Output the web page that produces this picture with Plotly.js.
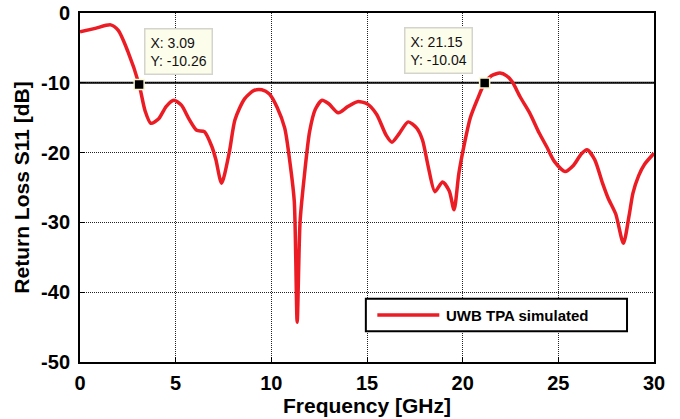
<!DOCTYPE html>
<html>
<head>
<meta charset="utf-8">
<script src="https://cdn.plot.ly/plotly-3.0.1.min.js"></script>
<style>html,body{margin:0;padding:0;background:#fff;}#chart{width:680px;height:419px;}</style>
</head>
<body>
<div id="chart"></div>
<script>
// Frequency [GHz]
const freq = [0, 0.8, 1.6, 2.0, 2.5, 3.09, 3.4, 3.7, 4.1, 4.5, 4.9, 5.3, 5.7, 6.1, 6.5, 6.9, 7.1, 7.4, 7.8, 8.1, 8.6, 9.1, 9.5, 9.9, 10.3, 10.7, 11.0, 11.2, 11.35, 11.5, 11.7, 12.0, 12.3, 12.65, 13.0, 13.5, 14.0, 14.5, 15.0, 15.5, 16.0, 16.3, 16.7, 17.15, 17.6, 17.9, 18.2, 18.55, 18.95, 19.3, 19.55, 19.8, 20.1, 20.4, 20.75, 21.15, 21.5, 21.95, 22.3, 22.6, 23.0, 23.5, 24.0, 24.4, 24.8, 25.35, 25.8, 26.2, 26.5, 26.9, 27.3, 27.6, 28.0, 28.4, 28.7, 28.9, 29.2, 29.5, 30.0];
// Return loss S11 [dB]
const s11 = [-2.7, -2.2, -1.7, -2.5, -5.5, -10.26, -14, -15.8, -15.2, -13.4, -12.5, -13.2, -15.2, -16.8, -17.0, -19.2, -21, -24.4, -20, -15.3, -12.3, -11.1, -11.0, -11.6, -13.5, -16.5, -22, -27, -44.3, -30, -24, -17, -13.8, -12.5, -13.0, -14.3, -13.4, -12.7, -13.0, -14.5, -17.5, -18.5, -17.2, -15.6, -16.5, -18.2, -22, -25.6, -24.2, -25.5, -28.2, -23, -18.6, -15, -12.5, -10.04, -9.0, -8.6, -9.0, -9.9, -12, -14.3, -17.2, -19.2, -21.3, -22.7, -21.8, -20.2, -19.6, -21.0, -24.3, -26.5, -28.8, -33, -29, -25.8, -23.3, -21.7, -20.1];
// Data tips
const tipX = [3.09, 21.15];
const tipY = [-10.26, -10.04];
const seriesName = "UWB TPA simulated";
const threshold = -10;
const xTicks = [0, 5, 10, 15, 20, 25, 30];
const yTicks = [-50, -40, -30, -20, -10, 0];

const red = '#ec1c24';
const traces = [
  {x: freq, y: s11, type: 'scatter', mode: 'lines', name: seriesName, showlegend: false,
   line: {color: red, width: 3.5, shape: 'spline', smoothing: 0.7}},
  {x: tipX, y: tipY, type: 'scatter', mode: 'markers', showlegend: false,
   marker: {symbol: 'square', size: 10, color: '#000', line: {color: '#fbf7d0', width: 1.5}}}
];

const tickFont = {family: 'Liberation Sans, Arial, sans-serif', size: 20, color: '#000', weight: 'bold'};
const tipAnn = tipX.map((x, i) => ({
  x: i === 0 ? 3.35 : 16.94, y: i === 0 ? -2.15 : -2.0, xref: 'x', yref: 'y',
  xanchor: 'left', yanchor: 'top', showarrow: false, align: 'left',
  text: 'X: ' + x.toFixed(2) + '<br>Y: ' + tipY[i].toFixed(2),
  font: {family: 'Liberation Sans, Arial, sans-serif', size: 14, color: '#111'},
  bgcolor: '#fdfdec', bordercolor: '#d4d4cc', borderwidth: 1.5, borderpad: 5
}));

const layout = {
  width: 680, height: 419,
  margin: {l: 80, r: 26, t: 13, b: 57},
  paper_bgcolor: '#fff', plot_bgcolor: '#fff',
  font: {family: 'Liberation Sans, Arial, sans-serif', color: '#000'},
  xaxis: {
    range: [0, 30], tickvals: xTicks, ticktext: xTicks.map(String),
    showgrid: true, gridcolor: '#222', gridwidth: 1, griddash: '1px,1px',
    ticks: 'inside', ticklen: 5, tickwidth: 1, tickcolor: '#000',
    showline: true, linecolor: '#000', linewidth: 2, mirror: true,
    zeroline: false, tickfont: tickFont, ticklabelstandoff: 2,
    title: {text: 'Frequency [GHz]', font: {family: 'Liberation Sans, Arial, sans-serif', size: 21, weight: 'bold', color: '#000'}, standoff: 4}
  },
  yaxis: {
    range: [-50, 0], tickvals: yTicks, ticktext: yTicks.map(String),
    showgrid: true, gridcolor: '#222', gridwidth: 1, griddash: '1px,1px',
    ticks: 'inside', ticklen: 5, tickwidth: 1, tickcolor: '#000',
    showline: true, linecolor: '#000', linewidth: 2, mirror: true,
    zeroline: false, tickfont: tickFont, ticklabelstandoff: 4,
    title: {text: 'Return Loss S11 [dB]', font: {family: 'Liberation Sans, Arial, sans-serif', size: 21, weight: 'bold', color: '#000'}, standoff: 6}
  },
  shapes: [
    {type: 'line', xref: 'x', yref: 'y', x0: 0, x1: 30, y0: threshold, y1: threshold, line: {color: '#000', width: 2}, layer: 'below'},
    // legend box
    {type: 'rect', xref: 'paper', yref: 'paper', x0: 0.498, x1: 0.953, y0: 0.088, y1: 0.181, fillcolor: '#fff', line: {color: '#000', width: 2}},
    {type: 'line', xref: 'paper', yref: 'paper', x0: 0.518, x1: 0.626, y0: 0.1345, y1: 0.1345, line: {color: red, width: 3.5}}
  ],
  annotations: tipAnn.concat([
    {xref: 'paper', yref: 'paper', x: 0.635, y: 0.1345, xanchor: 'left', yanchor: 'middle', showarrow: false,
     text: seriesName, font: {family: 'Liberation Sans, Arial, sans-serif', size: 15, weight: 'bold', color: '#000'}}
  ])
};

Plotly.newPlot('chart', traces, layout, {displayModeBar: false, staticPlot: true});
</script>
</body>
</html>
